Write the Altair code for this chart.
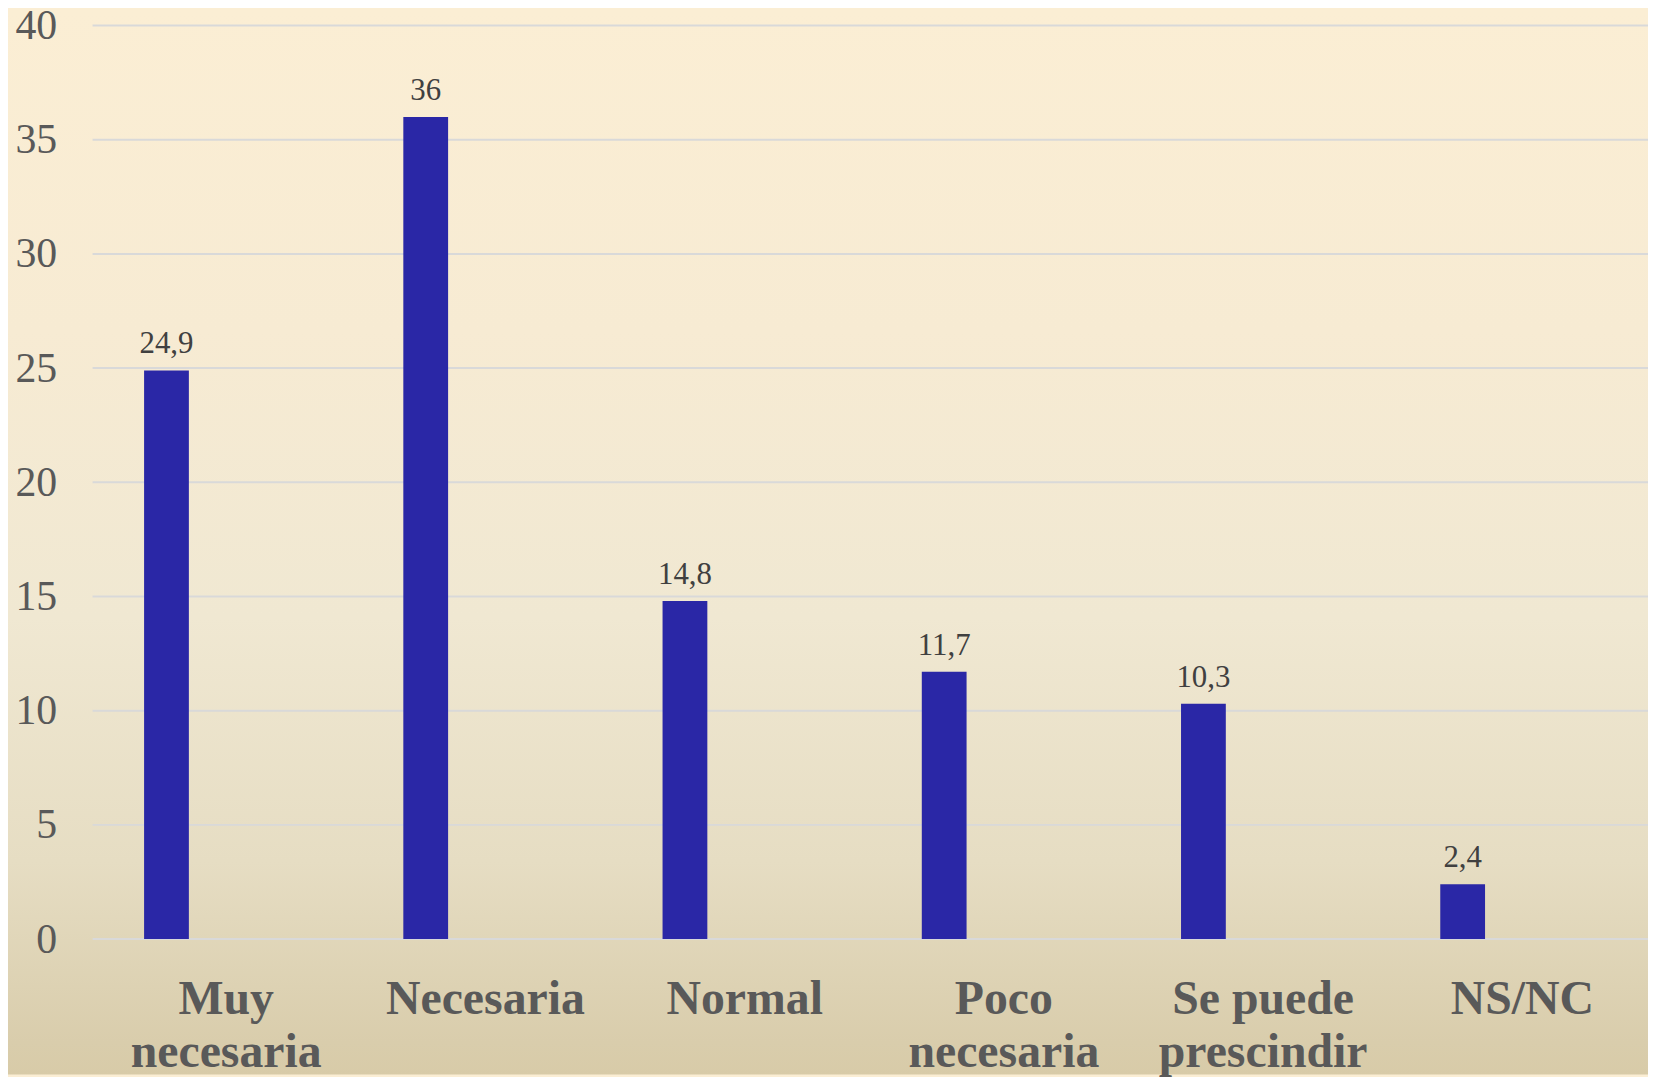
import altair as alt
import pandas as pd

categories = ["Muy necesaria", "Necesaria", "Normal", "Poco necesaria", "Se puede prescindir", "NS/NC"]
values = [24.9, 36, 14.8, 11.7, 10.3, 2.4]
y_ticks = [0, 5, 10, 15, 20, 25, 30, 35, 40]

df = pd.DataFrame({"cat": categories, "v": values})
grid_df = pd.DataFrame({"t": y_ticks})

W, H = 1563, 918
PAD_L, PAD_T, PAD_B = 85, 15, 136
FONT = "Liberation Serif"

x_scale = alt.Scale(domain=categories, paddingInner=0, paddingOuter=0)
y_scale = alt.Scale(domain=[0, 40], nice=False)

y_axis = alt.Axis(
    values=y_ticks,
    labelFont=FONT,
    labelFontSize=42,
    labelColor="#595959",
    labelPadding=36,
    ticks=False,
    domain=False,
    grid=False,
    zindex=1,
)

x_axis = alt.Axis(
    labelAngle=0,
    labelFont=FONT,
    labelFontSize=48,
    labelFontWeight="bold",
    labelColor="#595959",
    labelPadding=37,
    labelLineHeight=53,
    labelBaseline="top",
    labelLimit=1000,
    labelOffset=4,
    labelExpr="datum.value == 'Se puede prescindir' ? ['Se puede', 'prescindir'] : split(datum.value, ' ')",
    ticks=False,
    domain=False,
    grid=False,
    zindex=1,
)

bg = alt.Chart(alt.Data(values=[{"a": 1}])).mark_rect(
    fill=alt.LinearGradient(
        gradient="linear",
        stops=[
            alt.GradientStop(color="#FBEED4", offset=0),
            alt.GradientStop(color="#F7EBD3", offset=0.3),
            alt.GradientStop(color="#F0E8D2", offset=0.57),
            alt.GradientStop(color="#E6DDC3", offset=0.8),
            alt.GradientStop(color="#D9CDAC", offset=0.97),
            alt.GradientStop(color="#D8CBA8", offset=1),
        ],
        x1=0, x2=0, y1=0, y2=1,
    )
).encode(
    x=alt.value(-PAD_L), x2=alt.value(W), y=alt.value(-PAD_T), y2=alt.value(H + PAD_B)
)

grid = alt.Chart(grid_df).mark_rule(color="#D9D9D9", strokeWidth=2).encode(
    y=alt.Y("t:Q", scale=y_scale, axis=y_axis, title=None),
    x=alt.value(0),
    x2=alt.value(W),
)

bars = alt.Chart(df).mark_bar(color="#2A27A6", size=45, xOffset=-56).encode(
    x=alt.X("cat:N", sort=categories, scale=x_scale, title=None, axis=x_axis),
    y=alt.Y("v:Q", scale=y_scale, title=None),
)

text = alt.Chart(df).transform_calculate(
    lbl="replace(toString(datum.v), '.', ',')"
).mark_text(
    xOffset=-56, dy=-17, baseline="alphabetic", fontSize=31, font=FONT, color="#404040"
).encode(
    x=alt.X("cat:N", sort=categories, scale=x_scale),
    y=alt.Y("v:Q", scale=y_scale),
    text="lbl:N",
)

chart = alt.layer(bg, grid, bars, text).properties(
    width=W,
    height=H,
    autosize=alt.AutoSizeParams(type="none"),
    padding={"left": PAD_L, "top": PAD_T, "right": 0, "bottom": PAD_B},
    background="#FBEED4",
).configure_view(strokeWidth=0)

chart.save("out.html", embed_options={"renderer": "svg", "actions": False})
